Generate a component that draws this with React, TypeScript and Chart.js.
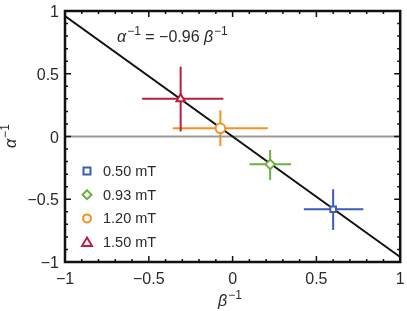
import React, { useEffect, useRef } from "react";
import { Chart, registerables } from "chart.js";

Chart.register(...registerables);

const fieldLabels = ["0.50 mT", "0.93 mT", "1.20 mT", "1.50 mT"];
const colors = ["#3d5db8", "#6fae3f", "#f7901e", "#b81e40"];
const pointStyles = ["rect", "rectRot", "circle", "triangle"];
const betaInv = [0.6, 0.224, -0.073, -0.31];
const alphaInv = [-0.58, -0.222, 0.065, 0.3];
const betaLow = [0.425, 0.101, -0.357, -0.54];
const betaHigh = [0.78, 0.349, 0.21, -0.055];
const alphaLow = [-0.745, -0.347, -0.076, 0.04];
const alphaHigh = [-0.42, -0.108, 0.21, 0.555];
const fitSlope = -0.96;
const fitX = [-1, 1];
const majorTicks = [-1, -0.5, 0, 0.5, 1];
const minorTicks = [-0.9, -0.8, -0.7, -0.6, -0.4, -0.3, -0.2, -0.1, 0.1, 0.2, 0.3, 0.4, 0.6, 0.7, 0.8, 0.9];

const FONT = "Arial, 'Liberation Sans', sans-serif";
const TEXT = "#2a2a2a";

function fmt(v: number) {
  const s = String(Math.abs(v));
  return v < 0 ? "\u2212" + s : s;
}

function drawSup(ctx: CanvasRenderingContext2D, x: number, y: number, base: string, size: number) {
  ctx.font = `italic ${size}px ${FONT}`;
  ctx.fillText(base, x, y);
  const w = ctx.measureText(base).width;
  ctx.font = `${Math.round(size * 0.75)}px ${FONT}`;
  ctx.fillText("\u22121", x + w + 1, y - size * 0.42);
  return w + 1 + ctx.measureText("\u22121").width;
}

const decorPlugin = {
  id: "decor",
  beforeDatasetsDraw(chart: any) {
    const { ctx, scales } = chart;
    const xs = scales.x, ys = scales.y;
    ctx.save();
    for (let i = 0; i < betaInv.length; i++) {
      ctx.strokeStyle = colors[i];
      ctx.lineWidth = 2;
      const px = xs.getPixelForValue(betaInv[i]);
      const py = ys.getPixelForValue(alphaInv[i]);
      ctx.beginPath();
      ctx.moveTo(xs.getPixelForValue(betaLow[i]), py);
      ctx.lineTo(xs.getPixelForValue(betaHigh[i]), py);
      ctx.moveTo(px, ys.getPixelForValue(alphaLow[i]));
      ctx.lineTo(px, ys.getPixelForValue(alphaHigh[i]));
      ctx.stroke();
    }
    ctx.restore();
  },
  afterDraw(chart: any) {
    const { ctx, chartArea: a, scales } = chart;
    const xs = scales.x, ys = scales.y;
    ctx.save();
    // frame
    ctx.strokeStyle = "#111";
    ctx.lineWidth = 2.5;
    ctx.strokeRect(a.left, a.top, a.right - a.left, a.bottom - a.top);
    // ticks
    ctx.lineWidth = 1.5;
    ctx.beginPath();
    const tick = (v: number, len: number) => {
      const px = xs.getPixelForValue(v);
      ctx.moveTo(px, a.bottom); ctx.lineTo(px, a.bottom - len);
      ctx.moveTo(px, a.top); ctx.lineTo(px, a.top + len);
      const py = ys.getPixelForValue(v);
      ctx.moveTo(a.left, py); ctx.lineTo(a.left + len, py);
      ctx.moveTo(a.right, py); ctx.lineTo(a.right - len, py);
    };
    majorTicks.forEach((v) => tick(v, 6));
    minorTicks.forEach((v) => tick(v, 3));
    ctx.stroke();
    // tick labels
    ctx.fillStyle = TEXT;
    ctx.font = `16px ${FONT}`;
    ctx.textBaseline = "alphabetic";
    ctx.textAlign = "center";
    majorTicks.forEach((v) => {
      ctx.fillText(fmt(v), xs.getPixelForValue(v), a.bottom + 22);
    });
    ctx.textAlign = "right";
    majorTicks.forEach((v) => {
      ctx.fillText(fmt(v), a.left - 6, ys.getPixelForValue(v) + 6);
    });
    // legend
    ctx.textBaseline = "middle";
    const lx = a.left + 22;
    fieldLabels.forEach((lab, i) => {
      const ly = 171 + i * 23.7;
      ctx.strokeStyle = colors[i];
      ctx.fillStyle = "#fff";
      ctx.lineWidth = 2;
      ctx.beginPath();
      const st = pointStyles[i];
      if (st === "rect") ctx.rect(lx - 3.5, ly - 3.5, 7, 7);
      else if (st === "rectRot") { ctx.moveTo(lx, ly - 4.5); ctx.lineTo(lx + 4.5, ly); ctx.lineTo(lx, ly + 4.5); ctx.lineTo(lx - 4.5, ly); ctx.closePath(); }
      else if (st === "circle") ctx.arc(lx, ly, 4, 0, Math.PI * 2);
      else { ctx.moveTo(lx, ly - 4.5); ctx.lineTo(lx + 5, ly + 4); ctx.lineTo(lx - 5, ly + 4); ctx.closePath(); }
      ctx.fill(); ctx.stroke();
      ctx.fillStyle = TEXT;
      ctx.font = `14.5px ${FONT}`;
      ctx.textAlign = "left";
      ctx.fillText(lab, lx + 16, ly + 1);
    });
    // annotation
    ctx.fillStyle = TEXT;
    ctx.textBaseline = "alphabetic";
    ctx.textAlign = "left";
    let x = 117;
    const y = 42;
    x += drawSup(ctx, x, y, "\u03b1", 16);
    ctx.font = `16px ${FONT}`;
    const mid = " = \u22120.96 ";
    ctx.fillText(mid, x, y);
    x += ctx.measureText(mid).width;
    drawSup(ctx, x, y, "\u03b2", 16);
    // x title
    drawSup(ctx, 218, 306, "\u03b2", 16);
    // y title
    ctx.translate(16, 137);
    ctx.rotate(-Math.PI / 2);
    drawSup(ctx, -11, 0, "\u03b1", 16);
    ctx.restore();
  },
};

export default function App() {
  const ref = useRef<HTMLCanvasElement>(null);
  useEffect(() => {
    const points = betaInv.map((b, i) => ({
      type: "scatter" as const,
      label: fieldLabels[i],
      data: [{ x: b, y: alphaInv[i] }],
      pointStyle: pointStyles[i],
      pointRadius: i === 0 ? 4 : 4.8,
      borderColor: colors[i],
      backgroundColor: "#fff",
      pointBorderWidth: 2,
      order: 0,
    }));
    const chart = new Chart(ref.current!, {
      type: "scatter",
      data: {
        datasets: [
          {
            type: "line",
            label: "zero",
            data: [{ x: -1, y: 0 }, { x: 1, y: 0 }],
            borderColor: "#9a9a9a",
            borderWidth: 2,
            pointRadius: 0,
            order: 3,
          },
          {
            type: "line",
            label: "fit",
            data: fitX.map((x) => ({ x, y: fitSlope * x })),
            borderColor: "#111",
            borderWidth: 2,
            pointRadius: 0,
            order: 2,
          },
          ...points,
        ] as any,
      },
      options: {
        animation: false,
        responsive: false,
        layout: { padding: { top: 11, right: 6, left: 0, bottom: 0 } },
        plugins: { legend: { display: false }, tooltip: { enabled: false } },
        scales: {
          x: {
            type: "linear",
            min: -1,
            max: 1,
            grid: { display: false },
            border: { display: false },
            ticks: { display: false },
            afterFit: (s: any) => { s.height = 49; },
          },
          y: {
            type: "linear",
            min: -1,
            max: 1,
            grid: { display: false },
            border: { display: false },
            ticks: { display: false },
            afterFit: (s: any) => { s.width = 65; },
          },
        },
      },
      plugins: [decorPlugin],
    } as any);
    return () => chart.destroy();
  }, []);
  return (
    <div style={{ position: "fixed", left: 0, top: 0, width: 407, height: 311, background: "#fff" }}>
      <canvas ref={ref} width={407} height={311} />
    </div>
  );
}
